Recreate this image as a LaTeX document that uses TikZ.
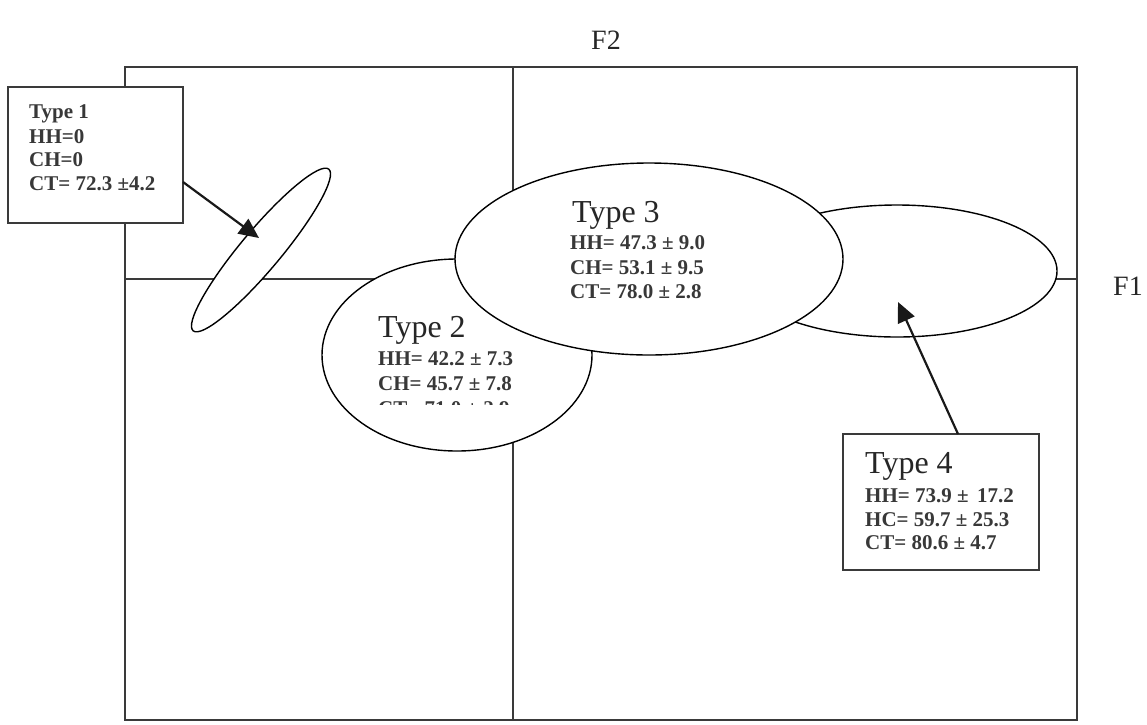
\documentclass[tikz,border=0pt]{standalone}
\usepackage{fontspec}
\setmainfont{Liberation Serif}
\usetikzlibrary{shapes.geometric,arrows.meta}
\definecolor{frameline}{HTML}{3A3A3A}
\tikzset{
  frame/.style={draw=frameline, line width=1.6pt},
  oval/.style={ellipse, draw=black, line width=1.4pt, fill=white, inner sep=0pt},
  infobox/.style={rectangle, draw=frameline, line width=1.8pt, fill=white, inner sep=0pt},
  head/.style={anchor=base west, inner sep=0pt, font=\fontsize{32}{32}\selectfont, text=black!85},
  data/.style={anchor=base west, inner sep=0pt, font=\fontsize{21}{21}\selectfont\bfseries, text=black!78},
  axislabel/.style={inner sep=0pt, font=\fontsize{28}{28}\selectfont, text=black!85},
  pointer/.style={draw=black!90, line width=2.2pt, -{Triangle[length=20pt,width=18pt]}}
}
\begin{document}
\begin{tikzpicture}[x=1pt,y=-1pt]
\useasboundingbox (0,0) rectangle (1147,724);
% frame and axes
\coordinate (tl) at (125,67);
\coordinate (tr) at (1077,67);
\coordinate (br) at (1077,720);
\coordinate (bl) at (125,720);
\coordinate (vt) at (513,67);
\coordinate (vb) at (513,720);
\coordinate (hl) at (125,279);
\coordinate (hr) at (1077,279);
\draw[frame] (tl) -- (tr) -- (br) -- (bl) -- cycle;
\draw[frame] (vt) -- (vb);
\draw[frame] (hl) -- (hr);
% axis labels
\node[axislabel] (f2) at (606,40) {F2};
\node[axislabel] (f1) at (1128,286) {F1};
% ellipses
\node[oval, minimum width=320pt, minimum height=132pt] (e4) at (897,271) {};
\node[oval, minimum width=270pt, minimum height=192pt] (e2) at (457,355) {};
\node[oval, minimum width=388pt, minimum height=192pt] (e3) at (649,259) {};
\node[oval, minimum width=211pt, minimum height=40pt, rotate=50] (e1) at (261,250) {};
% Type 2 text
\node[head] (t2h) at (378,337) {Type 2};
\node[data] (t2a) at (378,365) {HH= 42.2 ± 7.3};
\node[data] (t2b) at (378,390) {CH= 45.7 ± 7.8};
\begin{scope}
\clip (360,380) rectangle (600,404);
\node[data] (t2c) at (378,415) {CT= 71.0 ± 2.9};
\end{scope}
% Type 3 text
\node[head] (t3h) at (572,222) {Type 3};
\node[data] (t3a) at (570,249) {HH= 47.3 ± 9.0};
\node[data] (t3b) at (570,274) {CH= 53.1 ± 9.5};
\node[data] (t3c) at (570,298) {CT= 78.0 ± 2.8};
% Type 1 box
\node[infobox, minimum width=175pt, minimum height=136pt] (b1) at (95.5,155) {};
\node[data] (t1h) at (29,118) {Type 1};
\node[data] (t1a) at (29,143) {HH=0};
\node[data] (t1b) at (29,166) {CH=0};
\node[data] (t1c) at (29,190) {CT= 72.3 ±4.2};
% Type 4 box
\node[infobox, minimum width=196pt, minimum height=136pt] (b4) at (941,502) {};
\node[head] (t4h) at (865,473) {Type 4};
\node[data] (t4a) at (865,502) {HH= 73.9 ±\hspace{0.4em}17.2};
\node[data] (t4b) at (865,526) {HC= 59.7 ± 25.3};
\node[data] (t4c) at (865,549) {CT= 80.6 ± 4.7};
% arrows
\coordinate (a1s) at (183,182);
\coordinate (a1e) at (259,238);
\coordinate (a4s) at (958,434);
\coordinate (a4e) at (898,302);
\draw[pointer] (a1s) -- (a1e);
\draw[pointer] (a4s) -- (a4e);
\end{tikzpicture}
\end{document}
